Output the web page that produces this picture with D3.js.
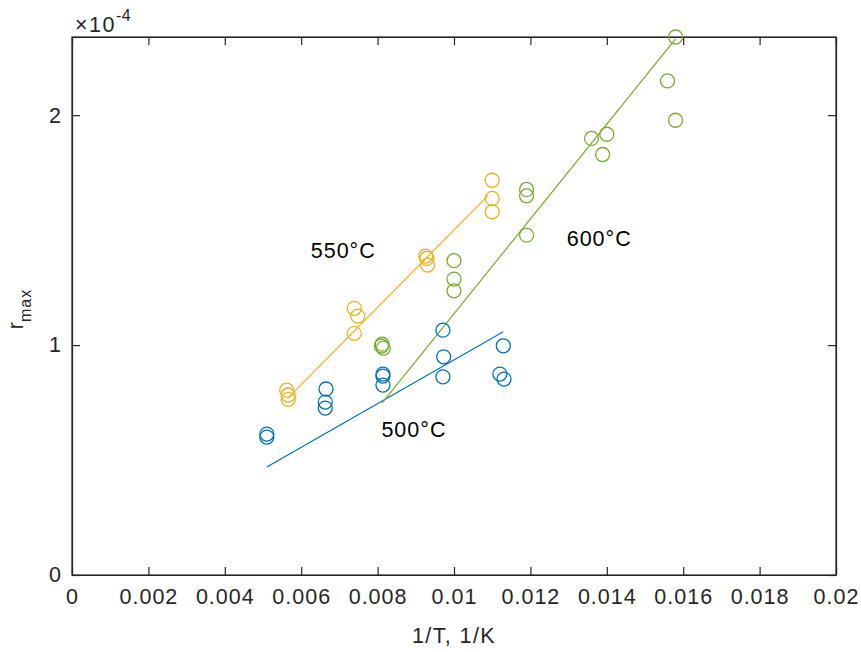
<!DOCTYPE html>
<html>
<head>
<meta charset="utf-8">
<script src="https://cdn.jsdelivr.net/npm/d3@7"></script>
<style>
  html, body { margin: 0; padding: 0; background: #fff; }
  svg { display: block; }
  text { font-family: "Liberation Sans", Arial, Helvetica, sans-serif; fill: #262626; }
</style>
</head>
<body>
<svg id="chart" width="861" height="652"></svg>
<script>
// Values of r_max are in units of 1e-4 (axis shows ×10^-4)
const x500 = [0.00510, 0.00510, 0.00665, 0.00663, 0.00663, 0.00814, 0.00814, 0.00814, 0.00971, 0.00973, 0.00971, 0.01129, 0.01120, 0.01131];
const y500 = [0.613, 0.600, 0.809, 0.752, 0.726, 0.874, 0.865, 0.826, 1.065, 0.949, 0.862, 0.997, 0.874, 0.852];
const x550 = [0.00562, 0.00566, 0.00566, 0.00739, 0.00748, 0.00739, 0.00926, 0.00929, 0.00931, 0.01100, 0.01100, 0.01100];
const y550 = [0.804, 0.783, 0.764, 1.160, 1.126, 1.051, 1.387, 1.377, 1.348, 1.717, 1.638, 1.580];
const x600 = [0.00812, 0.00810, 0.00815, 0.01000, 0.01000, 0.01000, 0.01190, 0.01190, 0.01190, 0.01360, 0.01400, 0.01389, 0.01559, 0.01580, 0.01580];
const y600 = [1.004, 0.996, 0.987, 1.367, 1.287, 1.236, 1.677, 1.649, 1.478, 1.899, 1.917, 1.829, 2.149, 1.978, 2.340];

// Fitted lines (endpoints)
const fit500x = [0.00510, 0.01129];
const fit500y = [0.470, 1.058];
const fit550x = [0.00564, 0.01090];
const fit550y = [0.767, 1.652];
const fit600x = [0.00811, 0.01580];
const fit600y = [0.747, 2.332];

const seriesLabels = ["500°C", "550°C", "600°C"];
const labelX = [0.00810, 0.00625, 0.01295];
const labelY = [0.600, 1.38, 1.43];

const xTicks = [0, 0.002, 0.004, 0.006, 0.008, 0.01, 0.012, 0.014, 0.016, 0.018, 0.02];
const xTickLabels = ["0", "0.002", "0.004", "0.006", "0.008", "0.01", "0.012", "0.014", "0.016", "0.018", "0.02"];
const yTicks = [0, 1, 2];
const yTickLabels = ["0", "1", "2"];

const colors = ["#0072BD", "#EDB120", "#77AC30"];

const svg = d3.select("#chart");
const L = 72, R = 836, T = 37, B = 575;
const x = d3.scaleLinear().domain([0, 0.02]).range([L, R]);
const y = d3.scaleLinear().domain([0, 2.34]).range([B, T]);
const axisColor = "#262626";
const tickLen = 8;
const FS = "21.5px";

// Axes (ticks inward on all four sides)
const gx = svg.append("g").attr("transform", `translate(0,${B})`)
  .call(d3.axisBottom(x).tickValues(xTicks).tickSizeInner(-tickLen).tickSizeOuter(0)
    .tickFormat((d, i) => xTickLabels[i]).tickPadding(14));
const gxt = svg.append("g").attr("transform", `translate(0,${T})`)
  .call(d3.axisTop(x).tickValues(xTicks).tickSizeInner(-tickLen).tickSizeOuter(0).tickFormat(""));
const gy = svg.append("g").attr("transform", `translate(${L},0)`)
  .call(d3.axisLeft(y).tickValues(yTicks).tickSizeInner(-tickLen).tickSizeOuter(0)
    .tickFormat((d, i) => yTickLabels[i]).tickPadding(11));
const gyr = svg.append("g").attr("transform", `translate(${R},0)`)
  .call(d3.axisRight(y).tickValues(yTicks).tickSizeInner(-tickLen).tickSizeOuter(0).tickFormat(""));

[gx, gxt, gy, gyr].forEach(g => {
  g.attr("font-family", null).attr("font-size", null);
  g.select(".domain").attr("stroke", axisColor).attr("stroke-width", 1.2);
  g.selectAll(".tick line").attr("stroke", axisColor).attr("stroke-width", 1.2);
  g.selectAll(".tick text").attr("fill", axisColor)
    .style("font-size", FS).style("letter-spacing", "1px");
});
gy.selectAll(".tick text").style("letter-spacing", "0px");
svg.append("rect").attr("x", L).attr("y", T).attr("width", R - L).attr("height", B - T)
  .attr("fill", "none").attr("stroke", axisColor).attr("stroke-width", 1.2);

// Fitted lines
const line = d3.line().x(d => x(d[0])).y(d => y(d[1]));
const fits = [[fit500x, fit500y], [fit550x, fit550y], [fit600x, fit600y]];
fits.forEach((f, i) => {
  svg.append("path").datum(d3.zip(f[0], f[1]))
    .attr("d", line).attr("fill", "none").attr("stroke", colors[i]).attr("stroke-width", 1.2);
});

// Markers
const sets = [[x500, y500], [x550, y550], [x600, y600]];
sets.forEach((s, i) => {
  svg.append("g").selectAll("circle").data(d3.zip(s[0], s[1])).join("circle")
    .attr("cx", d => x(d[0])).attr("cy", d => y(d[1])).attr("r", 7)
    .attr("fill", "none").attr("stroke", colors[i]).attr("stroke-width", 1.3);
});

// Series labels
seriesLabels.forEach((t, i) => {
  svg.append("text").attr("x", x(labelX[i])).attr("y", y(labelY[i]))
    .style("font-size", FS).style("letter-spacing", "1px").style("fill", "#000")
    .text(t);
});

// Axis labels
svg.append("text").attr("x", (L + R) / 2).attr("y", 643).attr("text-anchor", "middle")
  .style("font-size", FS).style("letter-spacing", "1.4px").text("1/T, 1/K");

const yl = svg.append("text").attr("transform", "translate(23,309) rotate(-90)")
  .attr("text-anchor", "middle").style("font-size", FS);
yl.append("tspan").text("r");
yl.append("tspan").attr("dy", 8).style("font-size", "16px").style("letter-spacing", "1px").text("max");

// Exponent
const ex = svg.append("text").attr("x", 75).attr("y", 31.5).style("font-size", FS).style("letter-spacing", "1.5px");
ex.append("tspan").text("×10");
ex.append("tspan").attr("dy", -11).style("font-size", "16px").style("letter-spacing", "0.5px").text("-4");
</script>
</body>
</html>
